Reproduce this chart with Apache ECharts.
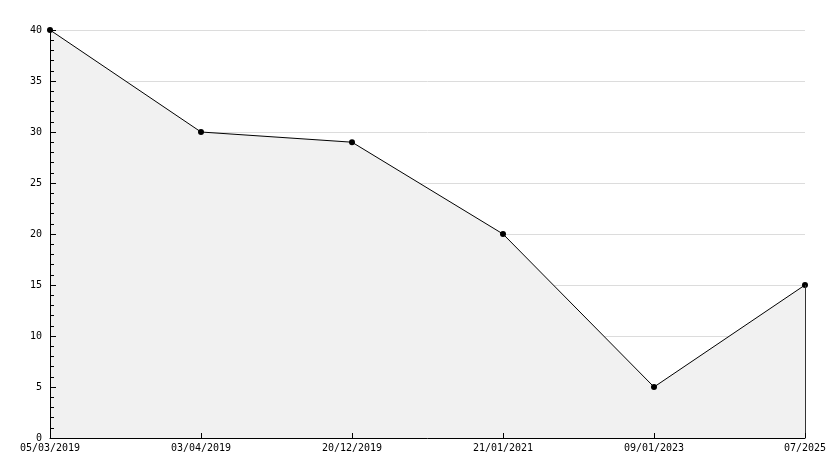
<!DOCTYPE html>
<html><head><meta charset="utf-8">
<script src="https://cdn.jsdelivr.net/npm/echarts@6/dist/echarts.min.js"></script>
<style>html,body{margin:0;padding:0;background:#fff}#c{width:834px;height:468px}</style>
</head><body><div id="c"></div>
<script>
const categories = ['05/03/2019','03/04/2019','20/12/2019','21/01/2021','09/01/2023','07/2025'];
const values = [40, 30, 29, 20, 5, 15];
const yTicks = [0,5,10,15,20,25,30,35,40];

const chart = echarts.init(document.getElementById('c'), null, {renderer:'canvas'});
const font = {fontFamily:'DejaVu Sans Mono', fontSize:10, color:'#000'};
const yMin = yTicks[0], yMax = yTicks[yTicks.length-1];
chart.setOption({
  animation:false,
  grid:{left:50,right:29,top:30,bottom:30},
  xAxis:{type:'category',data:categories,boundaryGap:false,z:10,
    axisLine:{lineStyle:{color:'#000',width:1}},
    axisTick:{inside:true,length:5,lineStyle:{color:'#000'}},
    axisLabel:Object.assign({margin:5,interval:0},font),
    splitLine:{show:false}},
  yAxis:[
    {type:'value',min:yMin,max:yMax,interval:5,z:0,
      axisLine:{show:false},axisTick:{show:false},axisLabel:{show:false},
      splitLine:{show:true,lineStyle:{color:'#dcdcdc',width:1}}},
    {type:'value',min:yMin,max:yMax,interval:5,z:10,position:'left',
      axisLine:{show:true,lineStyle:{color:'#000',width:1}},
      axisTick:{show:true,inside:true,length:6,lineStyle:{color:'#000'}},
      minorTick:{show:true,splitNumber:5,length:4,lineStyle:{color:'#000'}},
      axisLabel:Object.assign({margin:8},font),
      splitLine:{show:false}}
  ],
  series:[{type:'line',data:values,yAxisIndex:0,
    lineStyle:{color:'#000',width:1},
    itemStyle:{color:'#000'},
    symbol:'circle',symbolSize:6,
    areaStyle:{color:'#f1f1f1',opacity:1},
    markLine:{silent:true,symbol:'none',label:{show:false},
      lineStyle:{color:'#333',width:1,type:'solid'},
      data:[[{coord:[categories.length-1,0]},{coord:[categories.length-1,values[values.length-1]]}]]}
  }]
});
</script></body></html>
